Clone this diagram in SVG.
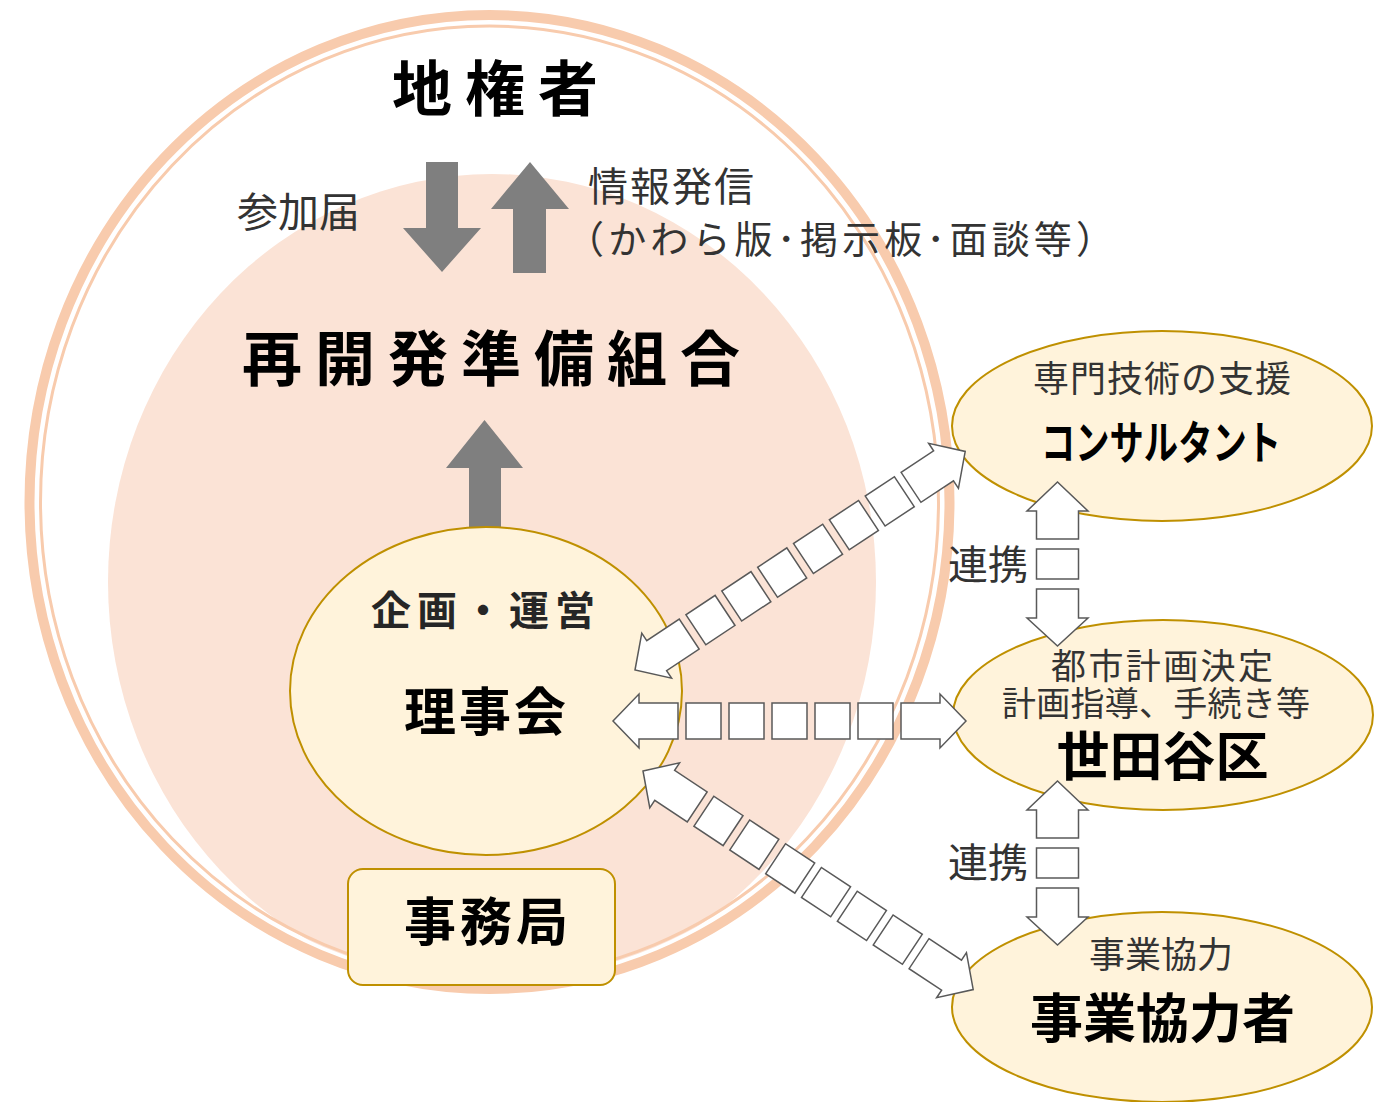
<svg xmlns="http://www.w3.org/2000/svg" width="1392" height="1102" viewBox="0 0 1392 1102">
<style>
  .jp { font-family: "Noto Sans CJK JP", "Noto Sans", sans-serif; }
  .bold { font-weight: 700; fill: #000; }
  .reg { font-weight: 400; fill: #333; }
  .grey { fill: #7F7F7F; }
  .node { fill: #FFF3DB; stroke: #BF9000; stroke-width: 2; }
  .blk { fill: #FFFFFF; stroke: #595959; stroke-width: 1.5; stroke-linejoin: miter; }
</style>
<defs>
  <g id="dbl5">
    <polygon class="blk" points="0,0 26,-27 26,-18 65,-18 65,18 26,18 26,27"/>
    <rect class="blk" x="73" y="-18" width="35" height="36"/>
    <rect class="blk" x="116" y="-18" width="35" height="36"/>
    <rect class="blk" x="159" y="-18" width="35" height="36"/>
    <rect class="blk" x="202" y="-18" width="35" height="36"/>
    <rect class="blk" x="245" y="-18" width="35" height="36"/>
    <polygon class="blk" points="288,-18 327,-18 327,-27 353,0 327,27 327,18 288,18"/>
  </g>
  <g id="dbl6">
    <polygon class="blk" points="0,0 26,-27 26,-18 65,-18 65,18 26,18 26,27"/>
    <rect class="blk" x="73" y="-18" width="35" height="36"/>
    <rect class="blk" x="116" y="-18" width="35" height="36"/>
    <rect class="blk" x="159" y="-18" width="35" height="36"/>
    <rect class="blk" x="202" y="-18" width="35" height="36"/>
    <rect class="blk" x="245" y="-18" width="35" height="36"/>
    <rect class="blk" x="288" y="-18" width="35" height="36"/>
    <polygon class="blk" points="331,-18 370,-18 370,-27 396,0 370,27 370,18 331,18"/>
  </g>
  <g id="vdbl">
    <polygon class="blk" points="0,0 30.5,29 21,29 21,57 -21,57 -21,29 -30.5,29"/>
    <rect class="blk" x="-21" y="67" width="42" height="30"/>
    <polygon class="blk" points="-21,107 21,107 21,136 30.5,136 0,164 -30.5,136 -21,136"/>
  </g>
</defs>

<g id="background">
  <ellipse cx="492" cy="582" rx="384" ry="408" fill="#FBE3D6"/>
  <ellipse cx="489.5" cy="502" rx="453" ry="481" fill="none" stroke="#FFFFFF" stroke-width="5"/>
  <ellipse cx="489.5" cy="502" rx="460" ry="487" fill="none" stroke="#F8CBAD" stroke-width="10"/>
  <ellipse cx="489.5" cy="502" rx="449" ry="476" fill="none" stroke="#F8CBAD" stroke-width="3"/>
</g>

<g id="node-jikensha">
  <text class="jp bold" x="392" y="111" font-size="60" letter-spacing="13">地権者</text>
</g>

<g id="connectors">
  <polygon class="grey" points="426,162 458,162 458,228 481,228 442,272 403,228 426,228"/>
  <polygon class="grey" points="530,162 569,209 546,209 546,273 513,273 513,209 491,209"/>
  <polygon class="grey" points="484.5,420 523,468 501,468 501,533 469,533 469,468 446,468"/>
</g>

<g id="labels-top">
  <text class="jp reg" x="237" y="227" font-size="41">参加届</text>
  <text class="jp reg" x="588" y="201" font-size="40" textLength="166" lengthAdjust="spacing">情報発信</text>
  <text class="jp reg" x="566" y="253" font-size="38" textLength="548" lengthAdjust="spacing">（かわら版･掲示板･面談等）</text>
</g>

<g id="node-kumiai">
  <text class="jp bold" x="242" y="381" font-size="60" letter-spacing="13">再開発準備組合</text>
</g>

<g id="node-rijikai">
  <ellipse class="node" cx="486" cy="691" rx="196" ry="164"/>
  <text class="jp bold" x="371" y="625" font-size="40" letter-spacing="6" style="fill:#262626">企画・運営</text>
  <text class="jp bold" x="404" y="731" font-size="52" letter-spacing="3">理事会</text>
</g>

<g id="node-jimukyoku">
  <rect class="node" x="348" y="869" width="267" height="116" rx="15" ry="15"/>
  <text class="jp bold" x="404" y="941" font-size="52" letter-spacing="4">事務局</text>
</g>

<g id="node-consultant">
  <ellipse class="node" cx="1162" cy="426" rx="210" ry="95"/>
  <text class="jp reg" x="1033" y="392" font-size="36" letter-spacing="1">専門技術の支援</text>
  <text class="jp bold" x="1041" y="459" font-size="46" textLength="240" lengthAdjust="spacingAndGlyphs">コンサルタント</text>
</g>

<g id="node-setagaya">
  <ellipse class="node" cx="1163" cy="715" rx="210" ry="95"/>
  <text class="jp reg" x="1162" y="679" font-size="35" text-anchor="middle" textLength="222" lengthAdjust="spacing">都市計画決定</text>
  <text class="jp reg" x="1156" y="716" font-size="34" text-anchor="middle" textLength="308" lengthAdjust="spacing">計画指導、手続き等</text>
  <text class="jp bold" x="1162.5" y="776" font-size="53" text-anchor="middle">世田谷区</text>
</g>

<g id="node-kyoryokusha">
  <ellipse class="node" cx="1162" cy="1007" rx="210" ry="95"/>
  <text class="jp reg" x="1161" y="968" font-size="36" text-anchor="middle">事業協力</text>
  <text class="jp bold" x="1162.5" y="1038" font-size="53" text-anchor="middle">事業協力者</text>
</g>

<g id="connectors-links">
  <use href="#dbl5" transform="translate(613,721)"/>
  <use href="#dbl6" transform="translate(635,670) rotate(-33.5)"/>
  <use href="#dbl6" transform="translate(643,771) rotate(33.5)"/>
  <use href="#vdbl" transform="translate(1057.5,482)"/>
  <use href="#vdbl" transform="translate(1057.5,781)"/>
  <text class="jp reg" x="948" y="579" font-size="40">連携</text>
  <text class="jp reg" x="948" y="877" font-size="40">連携</text>
</g>
</svg>
